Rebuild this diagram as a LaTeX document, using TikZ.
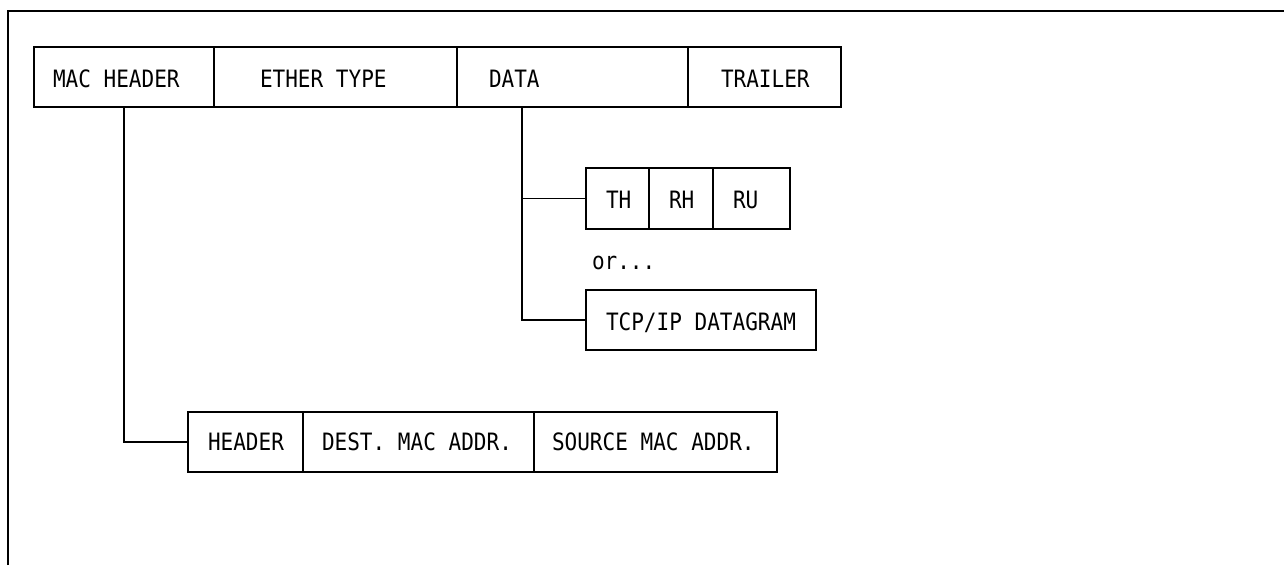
\documentclass[tikz,border=0pt]{standalone}
\usepackage{fontspec}
\usetikzlibrary{positioning}
\newfontfamily\boxfont[FakeStretch=0.88]{DejaVu Sans Mono}
\tikzstyle{every node}=[outer sep=0pt]
\tikzstyle{cell}=[draw,minimum height=60,inner sep=0pt]
\tikzstyle{txt}=[anchor=base west,inner sep=0pt,font=\boxfont\fontsize{23.9}{28}\selectfont]

\begin{document}
\begin{tikzpicture}[x=1pt,y=-1pt,line width=1.6pt]
\useasboundingbox (0,0) rectangle (1284,565);
\draw (7.7,565)--(7.7,10.7)--(1284,10.7);
\node[cell,minimum width=180] (mac) at (124,77) {};
\node[cell,minimum width=243,right=0pt of mac] (eth) {};
\node[cell,minimum width=231,right=0pt of eth] (data) {};
\node[cell,minimum width=153,right=0pt of data] (trl) {};
\node[cell,minimum width=63,minimum height=61] (th) at (617.5,198.5) {};
\node[cell,minimum width=64,minimum height=61,right=0pt of th] (rh) {};
\node[cell,minimum width=77,minimum height=61,right=0pt of rh] (ru) {};
\node[cell,minimum width=230] (tcp) at (701,320) {};
\node[cell,minimum width=115] (hdr) at (245.5,442) {};
\node[cell,minimum width=231,right=0pt of hdr] (dst) {};
\node[cell,minimum width=243,right=0pt of dst] (src) {};
\node[txt] (macT) at (53,87) {MAC HEADER};
\node[txt] (ethT) at (260,87) {ETHER TYPE};
\node[txt] (dataT) at (489,87) {DATA};
\node[txt] (trlT) at (721,87) {TRAILER};
\node[txt] (thT) at (606,208) {TH};
\node[txt] (rhT) at (669,208) {RH};
\node[txt] (ruT) at (733,208) {RU};
\node[txt] (orT) at (592,269) {or...};
\node[txt] (tcpT) at (606,330) {TCP/IP DATAGRAM};
\node[txt] (hdrT) at (208,450) {HEADER};
\node[txt] (dstT) at (322,450) {DEST. MAC ADDR.};
\node[txt] (srcT) at (552,450) {SOURCE MAC ADDR.};
\coordinate (tap) at ([xshift=65]data.south west);
\draw (mac.south)|-(hdr.west);
\draw (tap)|-(th.west);
\draw (tap)|-(tcp.west);
\end{tikzpicture}
\end{document}
